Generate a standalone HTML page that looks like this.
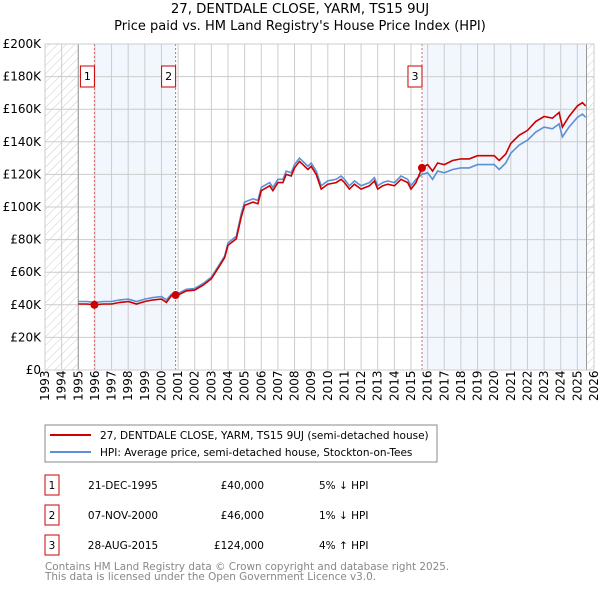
<!DOCTYPE html>
<html><head><meta charset="utf-8"><style>
body{margin:0;background:#fff;width:600px;height:590px;overflow:hidden;font-family:"DejaVu Sans","Liberation Sans",sans-serif}
</style></head><body>
<svg id="c" width="600" height="590" xmlns="http://www.w3.org/2000/svg" font-family="DejaVu Sans, Liberation Sans, sans-serif">
<defs><pattern id="hatch" width="6" height="6" patternUnits="userSpaceOnUse" patternTransform="rotate(45)"><line x1="0" y1="0" x2="0" y2="6" stroke="#ccc" stroke-width="1"/></pattern></defs>
<text x="300" y="13" text-anchor="middle" font-size="13.3">27, DENTDALE CLOSE, YARM, TS15 9UJ</text>
<text x="300" y="30" text-anchor="middle" font-size="13">Price paid vs. HM Land Registry's House Price Index (HPI)</text>
<g id="plot"></g>
<rect x="45" y="425" width="392" height="37" fill="#fff" stroke="#888"/>
<line x1="50" y1="435" x2="91" y2="435" stroke="#cc0000" stroke-width="2"/>
<text x="100" y="439" font-size="10.5">27, DENTDALE CLOSE, YARM, TS15 9UJ (semi-detached house)</text>
<line x1="50" y1="452" x2="91" y2="452" stroke="#5b8fd6" stroke-width="2"/>
<text x="100" y="456" font-size="10.5">HPI: Average price, semi-detached house, Stockton-on-Tees</text>
<g id="table" font-size="10.5"></g>
<text x="45" y="570" font-size="10.4" fill="#888">Contains HM Land Registry data © Crown copyright and database right 2025.</text>
<text x="45" y="580" font-size="10.4" fill="#888">This data is licensed under the Open Government Licence v3.0.</text>
</svg>
<script>
const years=[1995.0,1995.5,1996,1996.5,1997,1997.5,1998,1998.5,1999,1999.5,2000,2000.3,2000.6,2001,2001.5,2002,2002.5,2003,2003.5,2003.8,2004,2004.5,2004.8,2005,2005.5,2005.8,2006,2006.5,2006.7,2007,2007.3,2007.5,2007.8,2008,2008.3,2008.5,2008.8,2009,2009.3,2009.6,2010,2010.5,2010.8,2011,2011.3,2011.6,2012,2012.5,2012.8,2013,2013.3,2013.6,2014,2014.4,2014.8,2015,2015.3,2015.66,2016,2016.3,2016.6,2017,2017.5,2018,2018.5,2019,2019.5,2020,2020.3,2020.7,2021,2021.5,2022,2022.5,2023,2023.5,2023.9,2024.1,2024.5,2025,2025.3,2025.5];
const hpi=[42,42,41.5,42,42,43,43.5,42,43.5,44.5,45,43,46.5,47,49.5,50,53,57,65,70,78,82,96,103,105,104,112,115,112,117,117,122,121,126,130,128,125,127,122,113,116,117,119,117,113,116,113,115,118,113,115,116,115,119,117,113,117,120,121,117,122,121,123,124,124,126,126,126,123,127,133,138,141,146,149,148,151,143,149,155,157,155];
const paid=[40.5,40.5,40,40.5,40.5,41.5,42,40.5,42,43,43.5,41.5,45.5,46,48.5,49,52,56,64,69,76.5,80.5,94,101,103,102,110,113,110,115,115,120,119,124,128,126,123,125,120,111,114,115,117,115,111,114,111,113,116,111,113,114,113,117,115,111,115,124,126,122,127,126,128.5,129.5,129.5,131.5,131.5,131.5,128.5,132.5,139,144,147,152.5,155.5,154.5,158,149,155.5,162,164,162];
const saleYears=[1995.97,2000.85,2015.66];
const salePrices=[40,46,124];
const saleDates=["21-DEC-1995","07-NOV-2000","28-AUG-2015"];
const saleLabels=["£40,000","£46,000","£124,000"];
const saleHpi=["5% ↓ HPI","1% ↓ HPI","4% ↑ HPI"];
const yTicks=[0,20,40,60,80,100,120,140,160,180,200];
const xTicks=[1993,1994,1995,1996,1997,1998,1999,2000,2001,2002,2003,2004,2005,2006,2007,2008,2009,2010,2011,2012,2013,2014,2015,2016,2017,2018,2019,2020,2021,2022,2023,2024,2025,2026];
const NS="http://www.w3.org/2000/svg";
const L=45,R=594,T=44,B=370,x0=1993,x1=2026,dataEnd=2025.55;
const X=v=>L+(v-x0)/(x1-x0)*(R-L);
const Y=v=>B-v/200*(B-T);
const g=document.getElementById('plot');
function el(tag,attrs,parent){const e=document.createElementNS(NS,tag);for(const k in attrs)e.setAttribute(k,attrs[k]);(parent||g).appendChild(e);return e;}
let e;
e=el('rect',{x:X(1993),y:T,width:X(1995)-X(1993),height:B-T,fill:'url(#hatch)'});


e=el('rect',{x:X(dataEnd),y:T,width:R-X(dataEnd),height:B-T,fill:'url(#hatch)'});


e=el('rect',{x:X(saleYears[0]),y:T,width:X(saleYears[1])-X(saleYears[0]),height:B-T,fill:'#eef3fc',opacity:0.75});


e=el('rect',{x:X(saleYears[2]),y:T,width:X(dataEnd)-X(saleYears[2]),height:B-T,fill:'#eef3fc',opacity:0.75});


xTicks.forEach(t=>{
 e=el('line',{x1:X(t),x2:X(t),y1:T,y2:B,stroke:'#ccc'});
 
 
 e=el('text',{x:0,y:0,'font-size':12,transform:`translate(${X(t)+4},${B+31}) rotate(-90)`});
 e.textContent=t;
 
 
});
yTicks.forEach(t=>{
 e=el('line',{x1:L,x2:R,y1:Y(t),y2:Y(t),stroke:'#ccc'});
 
 
 e=el('text',{x:L-4,y:Y(t)+4,'font-size':12,'text-anchor':'end'});
 e.textContent=t===0?'£0':'£'+t+'K';
 
 
});
e=el('line',{x1:X(1995),x2:X(1995),y1:T,y2:B,stroke:'#999'});


e=el('line',{x1:X(dataEnd),x2:X(dataEnd),y1:T,y2:B,stroke:'#999'});


saleYears.forEach((s,i)=>{
 e=el('line',{x1:X(s),x2:X(s),y1:T,y2:B,stroke:'#e06666','stroke-dasharray':'2,2'});
 
 
 e=el('rect',{x:X(s)-14,y:66,width:14,height:21,fill:'#fff',stroke:'#c00'});
 
 
 e=el('text',{x:X(s)-7,y:80,'font-size':11,'text-anchor':'middle'});
 e.textContent=i+1;
 
 
});
e=el('path',{d:years.map((y,i)=>(i?'L':'M')+X(y).toFixed(1)+','+Y(hpi[i]).toFixed(1)).join(''),fill:'none',stroke:'#5b8fd6','stroke-width':1.6});


e=el('path',{d:years.map((y,i)=>(i?'L':'M')+X(y).toFixed(1)+','+Y(paid[i]).toFixed(1)).join(''),fill:'none',stroke:'#cc0000','stroke-width':1.6});


saleYears.forEach((s,i)=>{
 e=el('circle',{cx:X(s),cy:Y(salePrices[i]),r:4,fill:'#cc0000'});
 
 
});
e=el('rect',{x:L,y:T,width:R-L,height:B-T,fill:'none',stroke:'#ccc'});


const tb=document.getElementById('table');
saleDates.forEach((d,i)=>{
 const yy=475+i*30;
 e=el('rect',{x:45,y:yy,width:14,height:20,fill:'#fff',stroke:'#c00'},tb);
 
 
 e=el('text',{x:52,y:yy+14,'text-anchor':'middle'},tb);e.textContent=i+1;
 
 
 e=el('text',{x:123,y:yy+14,'text-anchor':'middle'},tb);e.textContent=d;
 
 
 e=el('text',{x:264,y:yy+14,'text-anchor':'end'},tb);e.textContent=saleLabels[i];
 
 
 e=el('text',{x:319,y:yy+14},tb);e.textContent=saleHpi[i];
 
 
});
</script>
</body></html>
